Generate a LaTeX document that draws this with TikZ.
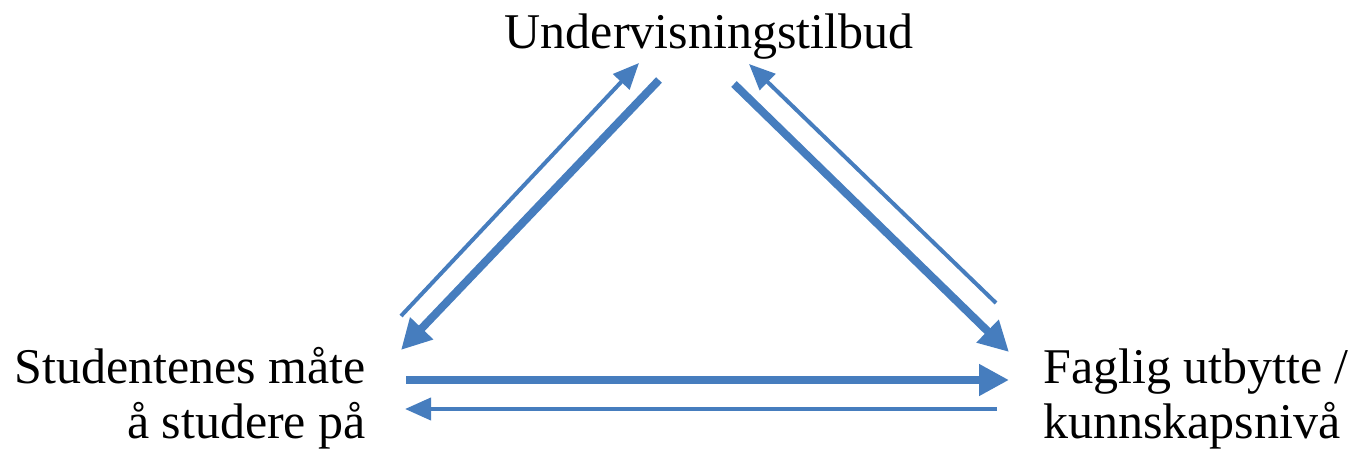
\documentclass[tikz,border=0pt]{standalone}
\usepackage{fontspec}
\setmainfont{Liberation Serif}
\usetikzlibrary{arrows.meta}
\definecolor{ablue}{RGB}{70,125,190}
\begin{document}
\begin{tikzpicture}[x=1pt,y=-1pt,
  lbl/.style={font=\fontsize{50}{55}\selectfont, inner sep=0pt, align=left},
  thickarr/.style={draw=ablue, line width=8pt, -{Triangle[length=30pt,width=30pt]}},
  thinarr/.style={draw=ablue, line width=4pt, -{Triangle[length=26pt,width=22pt]}}]
\useasboundingbox (0,0) rectangle (1352,462);
\node[lbl, anchor=base] (top) at (709,49) {Undervisningstilbud};
\node[lbl, anchor=base east, align=right] (left) at (366,438) {Studentenes måte\\å studere på};
\node[lbl, anchor=base west] (right) at (1043,438) {Faglig utbytte /\\kunnskapsnivå};
% endpoints
\coordinate (a1s) at (401,316); \coordinate (a1e) at (639,63);
\coordinate (a2s) at (659,80);  \coordinate (a2e) at (401,350);
\coordinate (a3s) at (734,84);  \coordinate (a3e) at (1009,352);
\coordinate (a4s) at (996,303); \coordinate (a4e) at (749,64);
\coordinate (a5s) at (406,380); \coordinate (a5e) at (1009,380);
\coordinate (a6s) at (997,409); \coordinate (a6e) at (405,409);
\draw[thinarr] (a1s) -- (a1e);
\draw[thickarr] (a2s) -- (a2e);
\draw[thickarr] (a3s) -- (a3e);
\draw[thinarr] (a4s) -- (a4e);
\draw[thickarr] (a5s) -- (a5e);
\draw[thinarr] (a6s) -- (a6e);
\end{tikzpicture}
\end{document}
